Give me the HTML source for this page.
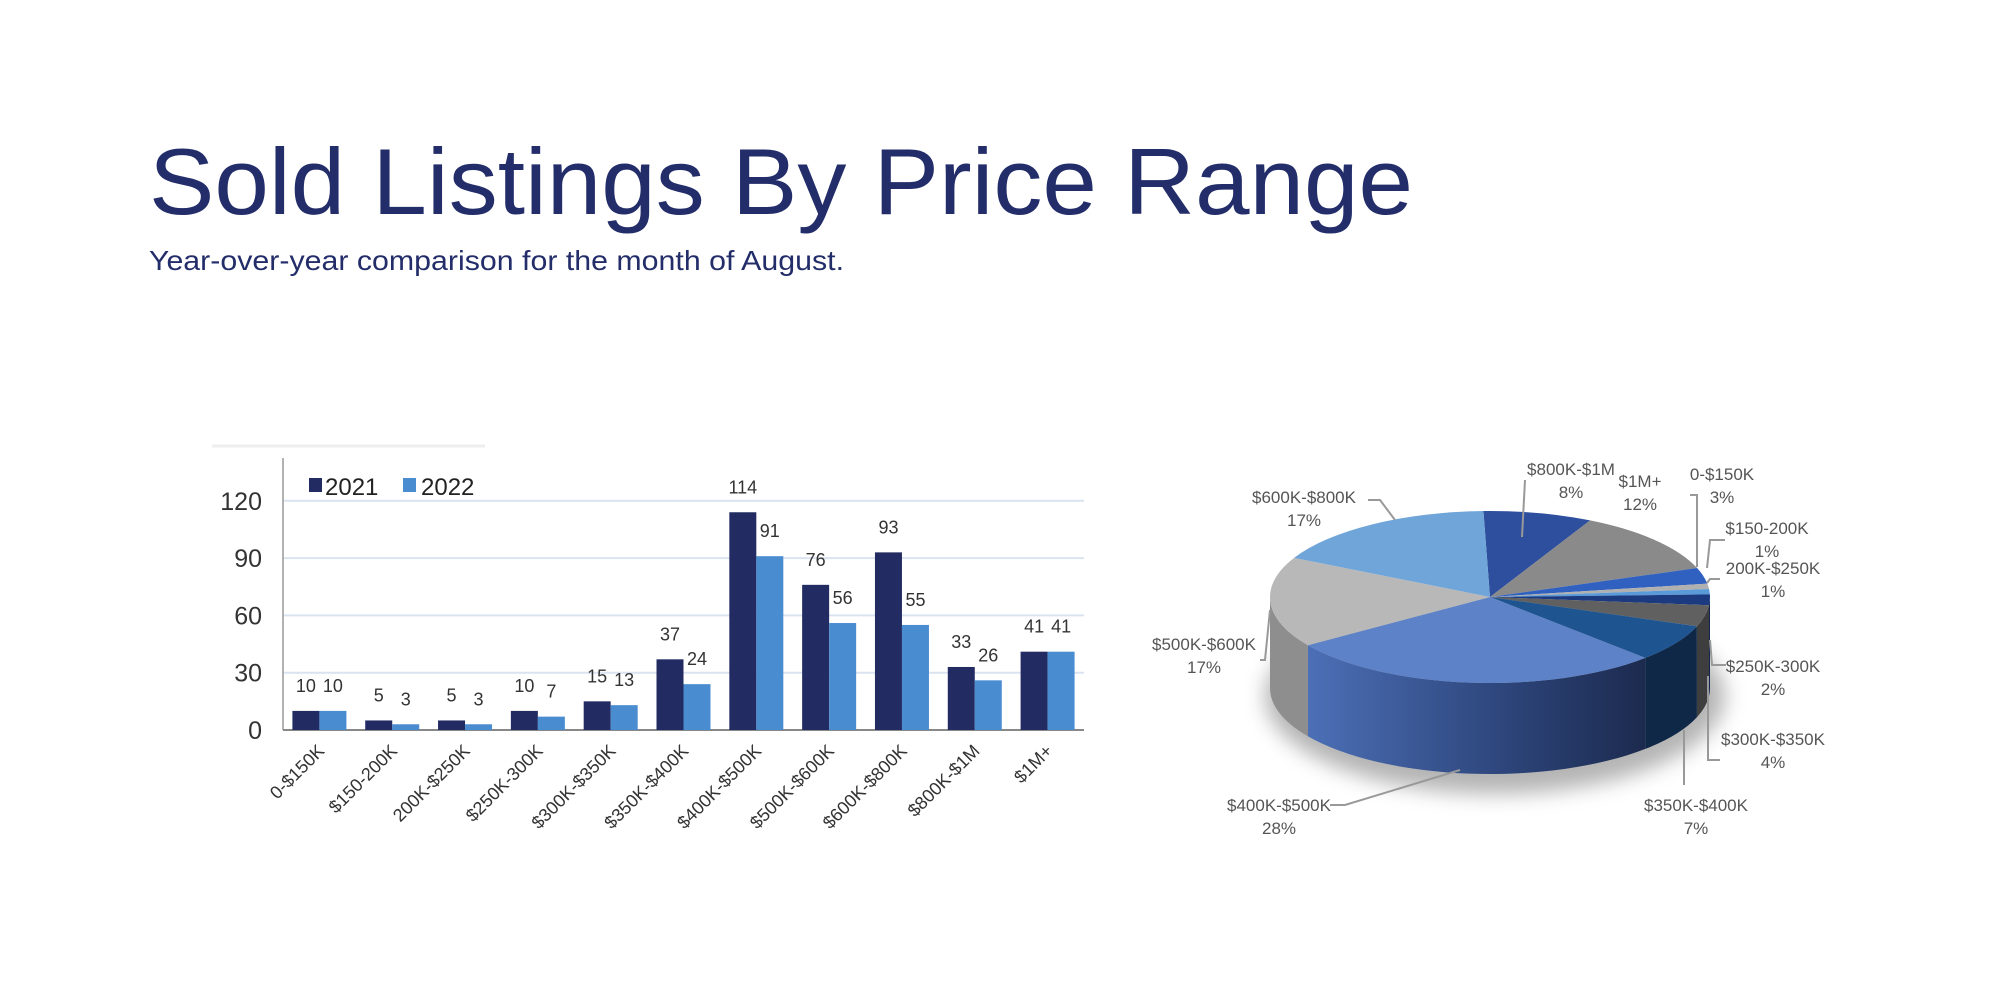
<!DOCTYPE html>
<html><head><meta charset="utf-8"><style>
html,body{margin:0;padding:0;background:#fff;}
svg{display:block;font-family:"Liberation Sans",Arial,sans-serif;}
</style></head><body>
<svg id="s" width="2000" height="1000" viewBox="0 0 2000 1000" xmlns="http://www.w3.org/2000/svg">
<defs>
<filter id="blur" x="-20%" y="-50%" width="140%" height="200%"><feGaussianBlur stdDeviation="10"/></filter>
<linearGradient id="sideG" x1="0" x2="1" y1="0" y2="0">
<stop offset="0" stop-color="#4c6fb6"/><stop offset="0.6" stop-color="#2c4479"/><stop offset="1" stop-color="#1c2a4e"/>
</linearGradient>
</defs>
<text x="149" y="214" font-size="94" fill="#232d6a" textLength="1264" lengthAdjust="spacingAndGlyphs">Sold Listings By Price Range</text>
<text x="149" y="270" font-size="28" fill="#232d6a" textLength="695" lengthAdjust="spacingAndGlyphs">Year-over-year comparison for the month of August.</text>
<line x1="212" y1="446" x2="485" y2="446" stroke="#eeeeee" stroke-width="3"/>
<g id="bar"></g>
<g id="pie"></g>
</svg>
<script>
var NS="http://www.w3.org/2000/svg";
function el(p,t,a,txt){var e=document.createElementNS(NS,t);for(var k in a)e.setAttribute(k,a[k]);if(txt!==undefined)e.textContent=txt;p.appendChild(e);return e;}
var bar=document.getElementById('bar');
var X0=283,X1=1084,BY=730,U=57.3/30,GW=(X1-X0)/11,BW=27;
[30,60,90,120].forEach(function(v){var y=BY-v*U;el(bar,'line',{x1:X0,x2:X1,y1:y,y2:y,stroke:'#dbe3f0','stroke-width':2});});
[0,30,60,90,120].forEach(function(v){el(bar,'text',{x:262,y:BY-v*U+9,'font-size':25,fill:'#333','text-anchor':'end'},v);});
el(bar,'line',{x1:X0,x2:X0,y1:458,y2:BY,stroke:'#999','stroke-width':1.5});
el(bar,'line',{x1:X0,x2:X1,y1:BY,y2:BY,stroke:'#888','stroke-width':2});
var cats=['0-$150K','$150-200K','200K-$250K','$250K-300K','$300K-$350K','$350K-$400K','$400K-$500K','$500K-$600K','$600K-$800K','$800K-$1M','$1M+'];
var a=[10,5,5,10,15,37,114,76,93,33,41],b=[10,3,3,7,13,24,91,56,55,26,41];
for(var i=0;i<11;i++){var c=X0+GW*(i+0.5);
el(bar,'rect',{x:c-BW,y:BY-a[i]*U,width:BW,height:a[i]*U,fill:'#222b62'});
el(bar,'rect',{x:c,y:BY-b[i]*U,width:BW,height:b[i]*U,fill:'#4a8cd0'});
el(bar,'text',{x:c-BW/2,y:BY-a[i]*U-19,'font-size':18,fill:'#333','text-anchor':'middle'},a[i]);
el(bar,'text',{x:c+BW/2,y:BY-b[i]*U-19,'font-size':18,fill:'#333','text-anchor':'middle'},b[i]);
el(bar,'text',{x:0,y:0,'font-size':18,fill:'#333','text-anchor':'end',transform:'translate('+(c+6)+',752) rotate(-45)'},cats[i]);}
el(bar,'rect',{x:309,y:478,width:13,height:14,fill:'#222b62'});
el(bar,'text',{x:325,y:495,'font-size':24,fill:'#222'},'2021');
el(bar,'rect',{x:403,y:478,width:13,height:14,fill:'#4a8cd0'});
el(bar,'text',{x:421,y:495,'font-size':24,fill:'#222'},'2022');
// pie
var pie=document.getElementById('pie');
var cx=1490,cy=597,rx=220,ry=86,D=91;
el(pie,'ellipse',{cx:cx+5,cy:cy+D+8,rx:rx+10,ry:ry+12,fill:'#777',opacity:0.55,filter:'url(#blur)'});
var pct=[8,12,3,1,1,2,4,7,28,17,17];
var col=['#2d4f9e','#8a8a8a','#3060c0','#b0b0b0','#5a9ad8','#1c3a80','#606060','#1e5590','#5d82c8','#b8b8b8','#6fa5d8'];
var sidec=['#203a75','#5e5e5e','#20438a','#808080','#3b70a8','#10244f','#3e3e3e','#0f2848','url(#sideG)','#8e8e8e','#4a7ab0'];
function P(t,dy){return [cx+rx*Math.cos(t),cy+ry*Math.sin(t)+(dy||0)];}
var st=-Math.PI/2-0.03,angs=[];
for(var i=0;i<11;i++){var e=st+pct[i]/100*2*Math.PI;angs.push([st,e]);st=e;}
// sides
for(var i=0;i<11;i++){var s=angs[i][0],e=angs[i][1];
 // normalize to visible range 0..PI
 var ranges=[[s,e],[s-2*Math.PI,e-2*Math.PI],[s+2*Math.PI,e+2*Math.PI]];
 ranges.forEach(function(r){var a0=Math.max(r[0],0),a1=Math.min(r[1],Math.PI);if(a1<=a0)return;
  var p0=P(a0),p1=P(a1),q1=P(a1,D),q0=P(a0,D);
  var d='M'+p0+' A'+rx+' '+ry+' 0 0 1 '+p1+' L'+q1+' A'+rx+' '+ry+' 0 0 0 '+q0+' Z';
  el(pie,'path',{d:d,fill:sidec[i]});});}
// tops
for(var i=0;i<11;i++){var s=angs[i][0],e=angs[i][1];var p0=P(s),p1=P(e);var lg=(e-s)>Math.PI?1:0;
 el(pie,'path',{d:'M'+cx+','+cy+' L'+p0+' A'+rx+' '+ry+' 0 '+lg+' 1 '+p1+' Z',fill:col[i]});}
// labels
var L=[['$800K-$1M','8%',1571,469],['$1M+','12%',1640,481],['0-$150K','3%',1722,474],['$150-200K','1%',1767,528],['200K-$250K','1%',1773,568],['$250K-300K','2%',1773,666],['$300K-$350K','4%',1773,739],['$350K-$400K','7%',1696,805],['$400K-$500K','28%',1279,805],['$500K-$600K','17%',1204,644],['$600K-$800K','17%',1304,497]];
L.forEach(function(l){el(pie,'text',{x:l[2],y:l[3]+6,'font-size':17,fill:'#555','text-anchor':'middle'},l[0]);el(pie,'text',{x:l[2],y:l[3]+29,'font-size':17,fill:'#555','text-anchor':'middle'},l[1]);});
var lines=['1522,537 1525,480','1690,495 1697,495 1697,567','1725,540 1710,540 1707,568','1720,579 1710,579 1707,583','1710,640 1712,665 1726,665','1708,676 1708,760 1720,760','1684,730 1684,785','1460,770 1345,805 1330,805','1270,610 1265,660 1260,660','1395,520 1380,500 1368,500'];
lines.forEach(function(p){el(pie,'polyline',{points:p,fill:'none',stroke:'#999','stroke-width':2});});
</script>
</body></html>
